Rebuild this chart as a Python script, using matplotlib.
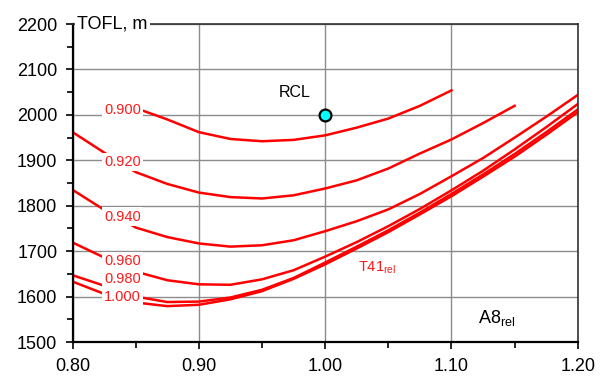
import matplotlib
matplotlib.use("Agg")
import matplotlib.pyplot as plt
import numpy as np

plt.rcParams['font.family'] = ['Liberation Sans', 'DejaVu Sans']
plt.rcParams['mathtext.fontset'] = 'custom'
plt.rcParams['mathtext.rm'] = 'Liberation Sans'

# A8 relative (x) grid for the curves
a8 = np.array([0.80, 0.825, 0.85, 0.875, 0.90, 0.925, 0.95, 0.975, 1.00,
               1.025, 1.05, 1.075, 1.10, 1.125, 1.15, 1.175, 1.20])

# curve T41rel = 0.900 (shorter range)
a8_090 = np.array([0.855, 0.875, 0.90, 0.925, 0.95, 0.975, 1.00, 1.025,
                   1.05, 1.075, 1.10])
tofl_090 = np.array([2010, 1990, 1962, 1947, 1942, 1945, 1955, 1972,
                     1992, 2020, 2054])

# curve T41rel = 0.920 (ends at 1.15)
a8_092 = a8[:15]
tofl_092 = np.array([1962, 1917, 1874, 1848, 1829, 1819, 1816, 1823, 1838,
                     1856, 1882, 1915, 1946, 1982, 2020])

tofl_094 = np.array([1835, 1791, 1752, 1731, 1717, 1710, 1713, 1724, 1744,
                     1766, 1792, 1826, 1865, 1905, 1950, 1996, 2044])
tofl_096 = np.array([1719, 1686, 1655, 1636, 1627, 1626, 1638, 1658, 1688,
                     1720, 1755, 1793, 1834, 1877, 1924, 1973, 2024])
tofl_098 = np.array([1647, 1624, 1600, 1588, 1589, 1598, 1615, 1641, 1675,
                     1710, 1746, 1785, 1826, 1869, 1914, 1962, 2012])
tofl_100 = np.array([1633, 1606, 1587, 1579, 1582, 1594, 1612, 1639, 1671,
                     1706, 1742, 1781, 1821, 1864, 1908, 1956, 2006])

curve_labels = ['0.900', '0.920', '0.940', '0.960', '0.980', '1.000']
label_y = [2010, 1897, 1776, 1679, 1638, 1598]

rcl_x = 1.0
rcl_y = 2000

fig = plt.figure(figsize=(6.05, 3.76), dpi=100)
ax = fig.add_axes([0.120, 0.0904, 0.835, 0.8456])

red = '#ff0000'
lw = 1.8
ax.plot(a8_090, tofl_090, color=red, lw=lw, zorder=2)
ax.plot(a8_092, tofl_092, color=red, lw=lw, zorder=2)
for t in [tofl_094, tofl_096, tofl_098, tofl_100]:
    ax.plot(a8, t, color=red, lw=lw, zorder=2)

# inline curve labels
for lab, yy in zip(curve_labels, label_y):
    ax.text(0.8396, yy, lab, color='#ff1a1a', fontsize=10.5, ha='center', va='center',
            zorder=4, bbox=dict(boxstyle='square,pad=0.15', fc='white', ec='none'))

# RCL point
ax.plot(rcl_x, rcl_y, 'o', ms=8.5, mfc='#00ffff', mec='black', mew=1.6, zorder=5)
ax.text(0.976, 2050, 'RCL', fontsize=11.5, ha='center', va='center')

ax.text(1.041, 1663, r'T41$_{\mathregular{rel}}$', color='#ff1a1a', fontsize=10.5,
        ha='center', va='center')
ax.text(1.136, 1553, r'A8$_{\mathregular{rel}}$', fontsize=13,
        ha='center', va='center')

ax.set_xlim(0.8, 1.2)
ax.set_ylim(1500, 2200)
ax.set_xticks([0.8, 0.9, 1.0, 1.1, 1.2])
ax.set_xticklabels(['%.2f' % v for v in [0.8, 0.9, 1.0, 1.1, 1.2]])
ax.set_xticks([0.85, 0.95, 1.05, 1.15], minor=True)
ax.set_yticks(np.arange(1500, 2201, 100))
ax.set_yticks(np.arange(1550, 2200, 100), minor=True)
ax.tick_params(which='major', direction='out', length=5, width=1.2,
               labelsize=13)
ax.tick_params(which='minor', direction='out', length=4, width=1.2)
ax.tick_params(axis='x', which='major', pad=6.5)
ax.tick_params(axis='y', which='major', pad=6)

ax.grid(True, which='major', color='#8c8c8c', lw=1.0, zorder=0)
ax.set_axisbelow(True)

ax.spines['left'].set_linewidth(1.6)
ax.spines['bottom'].set_linewidth(1.6)
ax.spines['top'].set_color('#333333')
ax.spines['right'].set_color('#333333')
ax.spines['top'].set_linewidth(1.2)
ax.spines['right'].set_linewidth(1.2)

# y axis title sitting on top of the frame
ax.text(0.8035, 2200, 'TOFL, m', fontsize=13, ha='left', va='center', zorder=6,
        clip_on=False, bbox=dict(boxstyle='square,pad=0.12', fc='white', ec='none'))

fig.savefig('out.png', dpi=100)
